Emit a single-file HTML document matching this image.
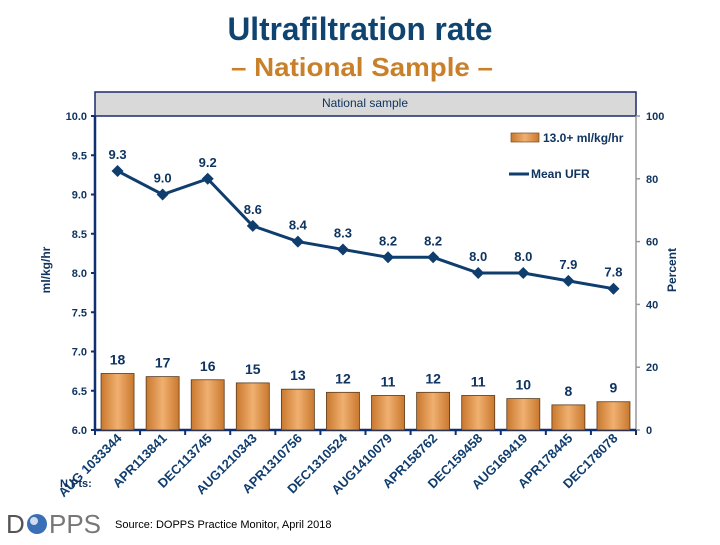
<!DOCTYPE html>
<html><head><meta charset="utf-8"><style>
body{margin:0;width:720px;height:540px;background:#fff;overflow:hidden;font-family:"Liberation Sans",sans-serif}
svg text{font-family:"Liberation Sans",sans-serif}
</style></head><body>
<svg id="c" width="720" height="540" xmlns="http://www.w3.org/2000/svg">
<defs>
<linearGradient id="bg" x1="0" x2="1" y1="0" y2="0">
<stop offset="0" stop-color="#c9782e"/><stop offset="0.5" stop-color="#f0b070"/><stop offset="1" stop-color="#c9782e"/>
</linearGradient>
</defs>
<text x="360" y="40" text-anchor="middle" font-size="32" font-weight="bold" fill="#0f4470" style="font-family:'Liberation Sans Narrow','Liberation Sans',sans-serif" textLength="265" lengthAdjust="spacingAndGlyphs">Ultrafiltration rate</text>
<text x="362" y="76" text-anchor="middle" font-size="26" font-weight="bold" fill="#c8802a" style="font-family:'Liberation Sans Narrow','Liberation Sans',sans-serif" textLength="262" lengthAdjust="spacingAndGlyphs">– National Sample –</text>
<rect x="95" y="92" width="541" height="24" fill="#d9d9d9" stroke="#1a2a6c" stroke-width="1.5"/>
<text x="365" y="107" text-anchor="middle" font-size="12" fill="#0f3460">National sample</text>
<g id="g"></g>
<text x="50" y="270" transform="rotate(-90 50 270)" text-anchor="middle" font-size="12" font-weight="bold" fill="#0f3460">ml/kg/hr</text>
<text x="676" y="270" transform="rotate(-90 676 270)" text-anchor="middle" font-size="12" font-weight="bold" fill="#0f3460">Percent</text>
<rect x="511" y="133" width="28" height="9" fill="url(#bg)" stroke="#7a4a1a" stroke-width="0.7"/>
<text x="543" y="142" font-size="12" font-weight="bold" fill="#0f3460">13.0+ ml/kg/hr</text>
<line x1="509" y1="174" x2="529" y2="174" stroke="#0f3d6e" stroke-width="3"/>
<text x="531" y="178" font-size="12" font-weight="bold" fill="#0f3460">Mean UFR</text>
<text x="60" y="487" font-size="11" font-weight="bold" fill="#0f3460">N Pts:</text>
<g>
<text x="6" y="533" font-size="26" fill="#555">D</text>
<circle cx="37" cy="524" r="10" fill="#3a6fb5"/>
<circle cx="34" cy="521" r="4" fill="#cfdcef"/>
<text x="49" y="533" font-size="26" fill="#777">PPS</text>
</g>
<text x="115" y="528" font-size="11" fill="#000">Source: DOPPS Practice Monitor, April 2018</text>
</svg>
<script>
const categories=["AUG 1033344","APR113841","DEC113745","AUG1210343","APR1310756","DEC1310524","AUG1410079","APR158762","DEC159458","AUG169419","APR178445","DEC178078"];
const barValues=[18,17,16,15,13,12,11,12,11,10,8,9];
const ufrValues=[9.3,9.0,9.2,8.6,8.4,8.3,8.2,8.2,8.0,8.0,7.9,7.8];
const leftTicks=["6.0","6.5","7.0","7.5","8.0","8.5","9.0","9.5","10.0"];
const rightTicks=["0","20","40","60","80","100"];
const NS="http://www.w3.org/2000/svg";
const g=document.getElementById('g');
const X0=95,X1=636,Y0=430,Y1=116;
const step=(X1-X0)/categories.length;
const xc=i=>X0+step*(i+0.5);
const yL=v=>Y0-(v-6)/4*(Y0-Y1);
const yR=v=>Y0-v/100*(Y0-Y1);
function mk(t,a){const e=document.createElementNS(NS,t);for(const k in a)e.setAttribute(k,a[k]);g.appendChild(e);return e;}
let e=mk('line',{x1:X0,y1:Y1,x2:X0,y2:Y0,stroke:'#0f2f70','stroke-width':2.5});


e=mk('line',{x1:X1,y1:Y1,x2:X1,y2:Y0,stroke:'#999','stroke-width':1.5});


e=mk('line',{x1:X0,y1:Y0,x2:X1,y2:Y0,stroke:'#0f2f70','stroke-width':2.5});


leftTicks.forEach(t=>{const y=yL(parseFloat(t));
e=mk('line',{x1:X0-4,y1:y,x2:X0,y2:y,stroke:'#0f2f70','stroke-width':2});


e=mk('text',{x:X0-8,y:y+4,'text-anchor':'end','font-size':11,'font-weight':'bold',fill:'#0f3460'});e.textContent=t;

});
rightTicks.forEach(t=>{const y=yR(parseFloat(t));
e=mk('line',{x1:X1,y1:y,x2:X1+4,y2:y,stroke:'#999','stroke-width':1.5});


e=mk('text',{x:X1+10,y:y+4,'font-size':11,'font-weight':'bold',fill:'#0f3460'});e.textContent=t;

});
for(let i=0;i<=categories.length;i++){const x=X0+step*i;
e=mk('line',{x1:x,y1:Y0,x2:x,y2:Y0+5,stroke:'#0f2f70','stroke-width':2});

}
barValues.forEach((v,i)=>{const y=yR(v),w=33;
e=mk('rect',{x:xc(i)-w/2,y:y,width:w,height:Y0-y,fill:'url(#bg)',stroke:'#5a3a1a','stroke-width':0.8});


e=mk('text',{x:xc(i),y:y-9,'text-anchor':'middle','font-size':14,'font-weight':'bold',fill:'#0f3460'});e.textContent=v;

});
categories.forEach((c,i)=>{const x=xc(i)+5,y=Y0+9;
e=mk('text',{x:x,y:y,'text-anchor':'end','font-size':13,'font-weight':'bold',fill:'#0f3d6e',transform:`rotate(-45 ${x} ${y})`});e.textContent=c;

});
e=mk('polyline',{points:ufrValues.map((v,i)=>xc(i)+','+yL(v)).join(' '),fill:'none',stroke:'#0f3d6e','stroke-width':3});


ufrValues.forEach((v,i)=>{const x=xc(i),y=yL(v);
e=mk('path',{d:`M${x-6} ${y}L${x} ${y-6}L${x+6} ${y}L${x} ${y+6}Z`,fill:'#0f3d6e'});


e=mk('text',{x:x,y:y-12,'text-anchor':'middle','font-size':13,'font-weight':'bold',fill:'#0f3460'});e.textContent=v.toFixed(1);

});
</script>
</body></html>
